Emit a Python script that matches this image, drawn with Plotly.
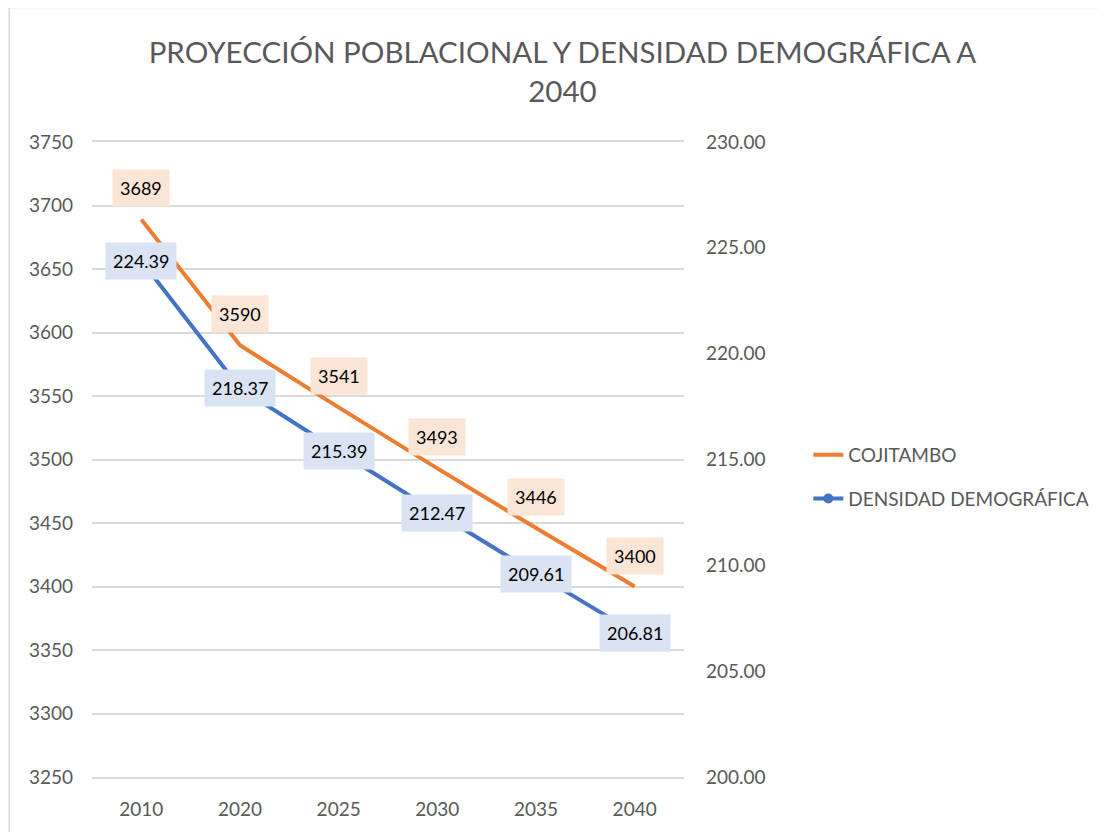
import plotly.graph_objects as go

# datos
YEARS = ["2010", "2020", "2025", "2030", "2035", "2040"]
POBLACION = [3689, 3590, 3541, 3493, 3446, 3400]
DENSIDAD = [224.39, 218.37, 215.39, 212.47, 209.61, 206.81]

COLOR_ORANGE = "#ED7D31"
COLOR_BLUE = "#4472C4"
LABEL_ORANGE = "#FBE5D6"
LABEL_BLUE = "#DAE3F3"
COLOR_GRID = "#D9D9D9"
COLOR_TEXT = "#595959"
FONT = "Lato, Open Sans, sans-serif"

fig = go.Figure()

fig.add_trace(
    go.Scatter(
        x=YEARS,
        y=POBLACION,
        mode="lines",
        name="COJITAMBO",
        legendgroup="pob",
        line=dict(color=COLOR_ORANGE, width=4),
    )
)

fig.add_trace(
    go.Scatter(
        x=YEARS,
        y=DENSIDAD,
        mode="lines+markers",
        name="DENSIDAD DEMOGRÁFICA",
        legendgroup="dens",
        line=dict(color=COLOR_BLUE, width=4),
        marker=dict(size=10, color=COLOR_BLUE),
        yaxis="y2",
    )
)

# etiquetas de datos (x como indice de categoria)
annotations = []
for i, v in enumerate(POBLACION):
    annotations.append(dict(
        x=i, y=v, xref="x", yref="y", text=str(v), showarrow=False,
        yshift=31, bgcolor=LABEL_ORANGE, borderpad=7,
        font=dict(family=FONT, size=18, color="black"),
    ))
for i, v in enumerate(DENSIDAD):
    annotations.append(dict(
        x=i, y=v, xref="x", yref="y2", text=f"{v:.2f}", showarrow=False,
        bgcolor=LABEL_BLUE, borderpad=7,
        font=dict(family=FONT, size=18, color="black"),
    ))

fig.update_layout(
    width=1098,
    height=824,
    margin=dict(l=84, r=421, t=134, b=53),
    paper_bgcolor="white",
    plot_bgcolor="white",
    font=dict(family=FONT, size=19, color=COLOR_TEXT),
    title=dict(
        text="PROYECCIÓN POBLACIONAL Y DENSIDAD DEMOGRÁFICA A<br>2040",
        x=0.505, xanchor="center", y=0.933, yanchor="middle",
        font=dict(family=FONT, size=29.5, color=COLOR_TEXT),
    ),
    xaxis=dict(
        type="category",
        range=[-0.5, 5.5],
        showgrid=False,
        showline=True,
        linecolor=COLOR_GRID,
        linewidth=1.5,
        mirror=True,
        ticks="",
        ticklabelstandoff=14,
        tickfont=dict(size=19, color=COLOR_TEXT),
    ),
    yaxis=dict(
        range=[3250, 3750],
        dtick=50,
        showgrid=True,
        gridcolor=COLOR_GRID,
        gridwidth=1.5,
        zeroline=False,
        showline=False,
        ticks="",
        ticklabelstandoff=18,
        tickfont=dict(size=19, color=COLOR_TEXT),
    ),
    yaxis2=dict(
        range=[200, 230],
        dtick=5,
        tickformat=".2f",
        overlaying="y",
        side="right",
        showgrid=False,
        zeroline=False,
        showline=False,
        ticks="",
        ticklabelstandoff=21,
        tickfont=dict(size=19, color=COLOR_TEXT),
    ),
    legend=dict(
        x=1.21, y=0.537, xanchor="left", yanchor="top",
        font=dict(family=FONT, size=19, color=COLOR_TEXT),
        bgcolor="rgba(0,0,0,0)",
        tracegroupgap=16,
    ),
    annotations=annotations,
    shapes=[dict(
        type="rect", xref="paper", yref="paper",
        x0=-0.14, x1=1.8, y0=-0.2, y1=1.212,
        line=dict(color=COLOR_GRID, width=1.5),
        fillcolor="rgba(0,0,0,0)", layer="below",
    )],
)

fig.write_html("out.html")
